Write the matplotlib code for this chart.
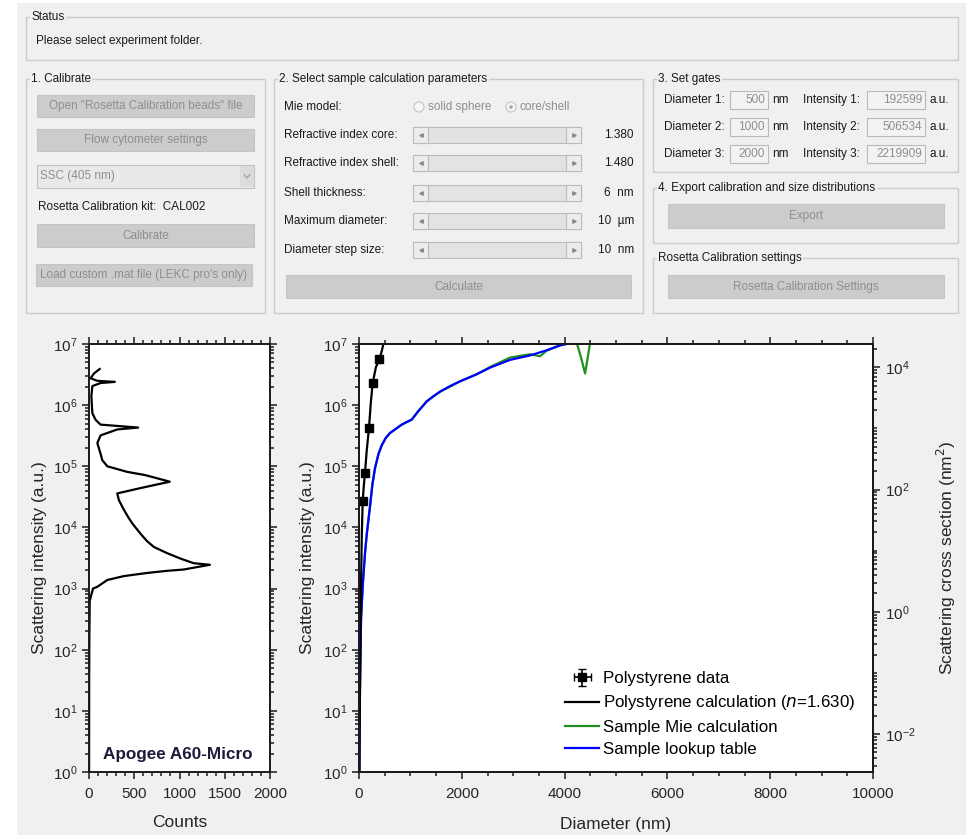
import numpy as np
import matplotlib
matplotlib.use('Agg')
import matplotlib.pyplot as plt
from matplotlib.patches import Rectangle, Circle
from matplotlib.ticker import MultipleLocator, LogLocator, FixedLocator, NullFormatter

plt.rcParams['font.family'] = ['Liberation Sans', 'DejaVu Sans']

# ---- data ----
# histogram of the calibration beads (left panel)
hist_counts = [118, 55, 18, 92, 285, 128, 37, 26, 37, 73, 128, 543, 312, 128, 92, 128,
               147, 202, 422, 617, 893, 569, 312, 330, 385, 430, 477, 569, 640, 716, 862,
               1009, 1156, 1336, 1046, 862, 642, 385, 202, 92, 44, 8, 4, 2, 1]
hist_intensity = [3.9e6, 3.3e6, 2.75e6, 2.5e6, 2.4e6, 2.3e6, 2.05e6, 1.4e6, 7.4e5, 5.75e5,
                  4.8e5, 4.3e5, 4.0e5, 3.2e5, 2.4e5, 1.6e5, 1.26e5, 1.0e5, 8.1e4, 7.2e4,
                  5.6e4, 4.4e4, 3.6e4, 2.8e4, 1.95e4, 1.5e4, 1.17e4, 7.9e3, 6.0e3, 4.8e3,
                  3.8e3, 3.1e3, 2.6e3, 2.45e3, 2.05e3, 1.95e3, 1.8e3, 1.6e3, 1.38e3, 1.07e3,
                  1.0e3, 630, 160, 40, 1]

# polystyrene bead data
ps_diam = [72, 117, 195, 266, 396]
ps_diam_err = [6, 5, 5, 6, 6]
ps_int = [2.7e4, 7.8e4, 4.3e5, 2.3e6, 5.6e6]
ps_int_err = [3e3, 8e3, 4e4, 2e5, 5e5]

# polystyrene Mie calculation
ps_calc_diam = [8, 15, 25, 40, 55, 72, 95, 117, 150, 195, 230, 266, 330, 396, 440, 480]
ps_calc_int = [1.0, 12, 150, 1.2e3, 8e3, 2.7e4, 5.0e4, 7.8e4, 1.8e5, 4.3e5, 1.1e6,
               2.3e6, 4.2e6, 5.6e6, 7.5e6, 1.05e7]

# sample lookup table
lut_diam = [5, 10, 20, 40, 72, 117, 150, 180, 214, 260, 311, 380, 442, 520, 603, 700,
            831, 930, 1026, 1150, 1317, 1450, 1576, 1770, 1965, 2290, 2549, 2938, 3328,
            3652, 3911, 4041]
lut_int = [1.0, 4.0, 25, 320, 1.1e3, 3.8e3, 7.6e3, 1.25e4, 2.2e4, 5.0e4, 9.3e4, 1.6e5,
           2.2e5, 2.9e5, 3.5e5, 4.0e5, 4.8e5, 5.3e5, 5.8e5, 7.9e5, 1.15e6, 1.4e6, 1.66e6,
           2.05e6, 2.45e6, 3.2e6, 4.1e6, 5.5e6, 6.5e6, 7.9e6, 9.5e6, 1.0e7]

# sample Mie calculation
mie_diam = [5, 10, 20, 40, 72, 117, 150, 180, 214, 260, 311, 380, 442, 520, 603, 700,
            831, 930, 1026, 1150, 1317, 1450, 1576, 1770, 1965, 2290, 2549, 2938, 3328,
            3522, 3652, 3911, 4041, 4150, 4236, 4320, 4398, 4450, 4495, 4600]
mie_int = [1.0, 4.0, 25, 320, 1.1e3, 3.8e3, 7.6e3, 1.25e4, 2.2e4, 5.0e4, 9.3e4, 1.6e5,
           2.2e5, 2.9e5, 3.5e5, 4.0e5, 4.8e5, 5.3e5, 5.8e5, 7.9e5, 1.15e6, 1.4e6, 1.66e6,
           2.0e6, 2.45e6, 3.2e6, 4.2e6, 6.0e6, 6.8e6, 6.3e6, 7.8e6, 9.5e6, 1.02e7, 1.2e7,
           1.05e7, 6.0e6, 3.3e6, 6.0e6, 1.05e7, 1.3e7]

cs_factor = 417.0   # intensity (a.u.) per nm^2 of scattering cross section

# gui values
slider_labels = ['Refractive index core:', 'Refractive index shell:', 'Shell thickness:',
                 'Maximum diameter:', 'Diameter step size:']
slider_values = ['1.380', '1.480', '6  nm', '10  \u00b5m', '10  nm']
gate_diam = ['500', '1000', '2000']
gate_int = ['192599', '506534', '2219909']

W, H = 973, 838
fig = plt.figure(figsize=(W / 100, H / 100), dpi=100)

# background "window" drawn in pixel coordinates
bg = fig.add_axes([0, 0, 1, 1], zorder=-1)
bg.set_xlim(0, W)
bg.set_ylim(H, 0)
bg.axis('off')
bg.add_patch(Rectangle((17, 3), 949, 832, facecolor='#f0f0f0', edgecolor='none'))

GUI_FS = 8.5
DIS = '#8e8e8e'


def panel(x0, y0, x1, y1, title):
    bg.add_patch(Rectangle((x0, y0), x1 - x0, y1 - y0, facecolor='none',
                           edgecolor='#cbcbcb', lw=1))
    bg.text(x0 + 5, y0, title, fontsize=GUI_FS, va='center', ha='left', color='#1a1a1a',
            bbox=dict(facecolor='#f0f0f0', edgecolor='none', pad=1))


def button(x0, y0, x1, y1, label):
    bg.add_patch(Rectangle((x0, y0), x1 - x0, y1 - y0, facecolor='#cccccc',
                           edgecolor='#c4c4c4', lw=0.8))
    bg.text((x0 + x1) / 2, (y0 + y1) / 2, label, fontsize=GUI_FS, color=DIS,
            ha='center', va='center')


def slider(x0, y0, x1, y1):
    bg.add_patch(Rectangle((x0, y0), x1 - x0, y1 - y0, facecolor='#e3e3e3',
                           edgecolor='#bcbcbc', lw=0.8))
    for bx in (x0, x1 - 15):
        bg.add_patch(Rectangle((bx, y0), 15, y1 - y0, facecolor='#ececec',
                               edgecolor='#bcbcbc', lw=0.8))
    bg.plot([x0 + 7.5], [(y0 + y1) / 2], marker='<', ms=2.5, color='#8a8a8a')
    bg.plot([x1 - 7.5], [(y0 + y1) / 2], marker='>', ms=2.5, color='#8a8a8a')


def editbox(x0, y0, x1, y1, val):
    bg.add_patch(Rectangle((x0, y0), x1 - x0, y1 - y0, facecolor='#f3f3f3',
                           edgecolor='#b9b9b9', lw=0.8))
    bg.text(x1 - 3, (y0 + y1) / 2, val, fontsize=GUI_FS, color=DIS, ha='right', va='center')


# status
panel(26, 17, 958, 60, 'Status')
bg.text(36, 41, 'Please select experiment folder.', fontsize=GUI_FS, va='center',
        color='#1a1a1a')

# 1. calibrate
panel(26, 79, 265, 313, '1. Calibrate')
button(37, 95, 254, 117, 'Open "Rosetta Calibration beads" file')
button(37, 129, 254, 151, 'Flow cytometer settings')
bg.add_patch(Rectangle((37, 165), 217, 23, facecolor='#e9e9e9', edgecolor='#c2c2c2', lw=0.8))
bg.add_patch(Rectangle((240, 166), 14, 21, facecolor='#dcdcdc', edgecolor='none'))
bg.plot([244, 247, 250], [174.5, 178, 174.5], color='#9a9a9a', lw=0.8)
bg.text(40, 176.5, 'SSC (405 nm)', fontsize=GUI_FS, color=DIS, va='center')
bg.text(38, 207, 'Rosetta Calibration kit:  CAL002', fontsize=GUI_FS, va='center',
        color='#1a1a1a')
button(37, 224, 254, 247, 'Calibrate')
button(36, 264, 252, 286, "Load custom .mat file (LEKC pro's only)")

# 2. sample calculation parameters
panel(274, 79, 643, 313, '2. Select sample calculation parameters')
bg.text(284, 107, 'Mie model:', fontsize=GUI_FS, va='center', color='#1a1a1a')
bg.add_patch(Circle((419, 107), 5, facecolor='#f6f6f6', edgecolor='#c6c6c6', lw=0.8))
bg.text(428, 107, 'solid sphere', fontsize=GUI_FS, va='center', color=DIS)
bg.add_patch(Circle((511, 107), 5, facecolor='#f6f6f6', edgecolor='#c6c6c6', lw=0.8))
bg.add_patch(Circle((511, 107), 1.8, facecolor='#a8a8a8', edgecolor='none'))
bg.text(520, 107, 'core/shell', fontsize=GUI_FS, va='center', color=DIS)
row_y = [135, 163, 193, 221, 250]
for yy, lab, val in zip(row_y, slider_labels, slider_values):
    bg.text(284, yy, lab, fontsize=GUI_FS, va='center', color='#1a1a1a')
    slider(413, yy - 8, 581, yy + 8)
    bg.text(634, yy, val, fontsize=GUI_FS, va='center', ha='right', color='#1a1a1a')
button(286, 275, 631, 298, 'Calculate')

# 3. gates
panel(653, 79, 958, 172, '3. Set gates')
for i, yy in enumerate([100, 127, 154]):
    bg.text(664, yy, 'Diameter %d:' % (i + 1), fontsize=GUI_FS, va='center', color='#1a1a1a')
    editbox(730, yy - 9, 768, yy + 9, gate_diam[i])
    bg.text(772, yy, 'nm', fontsize=GUI_FS, va='center', color='#1a1a1a')
    bg.text(803, yy, 'Intensity %d:' % (i + 1), fontsize=GUI_FS, va='center', color='#1a1a1a')
    editbox(867, yy - 9, 925, yy + 9, gate_int[i])
    bg.text(930, yy, 'a.u.', fontsize=GUI_FS, va='center', color='#1a1a1a')

# 4. export
panel(653, 188, 958, 243, '4. Export calibration and size distributions')
button(668, 204, 944, 228, 'Export')

# rosetta settings
panel(653, 258, 958, 313, 'Rosetta Calibration settings')
button(668, 275, 944, 298, 'Rosetta Calibration Settings')


# ---- plots ----
def px_axes(x0, y0, x1, y1):
    return fig.add_axes([x0 / W, 1 - y1 / H, (x1 - x0) / W, (y1 - y0) / H])


TXT = '#262626'
decades = [10.0 ** k for k in range(0, 8)]


def style(ax):
    for s in ax.spines.values():
        s.set_linewidth(1.4)
        s.set_color('#1a1a1a')
    ax.tick_params(which='both', direction='out', width=1.1, colors='#1a1a1a',
                   labelcolor=TXT, labelsize=11)
    ax.tick_params(which='major', length=5)
    ax.tick_params(which='minor', length=3)
    ax.tick_params(axis='x', which='major', pad=6)


# left: histogram
ax1 = px_axes(89, 344, 270, 772)
ax1.plot(hist_counts, hist_intensity, color='k', lw=1.6)
ax1.set_yscale('log')
ax1.set_ylim(1, 1e7)
ax1.set_xlim(0, 2000)
ax1.xaxis.set_major_locator(MultipleLocator(500))
ax1.xaxis.set_minor_locator(MultipleLocator(100))
ax1.yaxis.set_major_locator(FixedLocator(decades))
ax1.yaxis.set_minor_locator(LogLocator(base=10, subs=np.arange(2, 10), numticks=20))
ax1.yaxis.set_minor_formatter(NullFormatter())
style(ax1)
ax1.tick_params(which='both', top=True, right=True)
ax1.set_xlabel('Counts', fontsize=12.5, color=TXT)
ax1.set_ylabel('Scattering intensity (a.u.)', fontsize=12.5, color=TXT)
ax1.xaxis.set_label_coords(0.5, -0.1)
ax1.yaxis.set_label_coords(-0.23, 0.5)
ax1.text(0.49, 0.04, 'Apogee A60-Micro', transform=ax1.transAxes, ha='center', va='center',
         fontsize=12.3, fontweight='semibold', color='#1c1c3a')

# main: diameter vs intensity
ax = px_axes(359, 344, 873, 772)
ax.plot(mie_diam, mie_int, color='#1f8f1f', lw=1.6, label='Sample Mie calculation')
ax.plot(lut_diam, lut_int, color='#0000ff', lw=1.6, label='Sample lookup table')
ax.plot(ps_calc_diam, ps_calc_int, color='k', lw=1.6,
        label=r'Polystyrene calculation ($\it{n}$=1.630)')
ax.errorbar(ps_diam, ps_int, xerr=ps_diam_err, yerr=ps_int_err, fmt='s', color='k',
            ms=6, capsize=3, elinewidth=1.2, label='Polystyrene data')
ax.set_yscale('log')
ax.set_ylim(1, 1e7)
ax.set_xlim(0, 10000)
ax.xaxis.set_major_locator(MultipleLocator(2000))
ax.xaxis.set_minor_locator(MultipleLocator(500))
ax.yaxis.set_major_locator(FixedLocator(decades))
ax.yaxis.set_minor_locator(LogLocator(base=10, subs=np.arange(2, 10), numticks=20))
ax.yaxis.set_minor_formatter(NullFormatter())
style(ax)
ax.tick_params(which='both', top=True)
ax.set_xlabel('Diameter (nm)', fontsize=12.5, color=TXT)
ax.set_ylabel('Scattering intensity (a.u.)', fontsize=12.5, color=TXT)
ax.xaxis.set_label_coords(0.5, -0.105)
ax.yaxis.set_label_coords(-0.086, 0.5)

ax2 = ax.twinx()
ax2.set_yscale('log')
ax2.set_ylim(1 / cs_factor, 1e7 / cs_factor)
ax2.yaxis.set_major_locator(FixedLocator([1e-2, 1e0, 1e2, 1e4]))
ax2.yaxis.set_minor_locator(LogLocator(base=10, subs=np.arange(1, 10), numticks=20))
ax2.yaxis.set_minor_formatter(NullFormatter())
style(ax2)
ax2.set_ylabel('Scattering cross section (nm$^2$)', fontsize=12.5, color=TXT)
ax2.yaxis.set_label_coords(1.12, 0.5)

h, l = ax.get_legend_handles_labels()
order = [3, 2, 0, 1]
ax.legend([h[i] for i in order], [l[i] for i in order], frameon=False, fontsize=12.2,
          loc='center left', bbox_to_anchor=(557 / W, 1 - 714 / H),
          bbox_transform=fig.transFigure, borderpad=0, handlelength=2.0,
          handletextpad=0.2, labelspacing=0.42)

fig.savefig('out.png', dpi=100)
